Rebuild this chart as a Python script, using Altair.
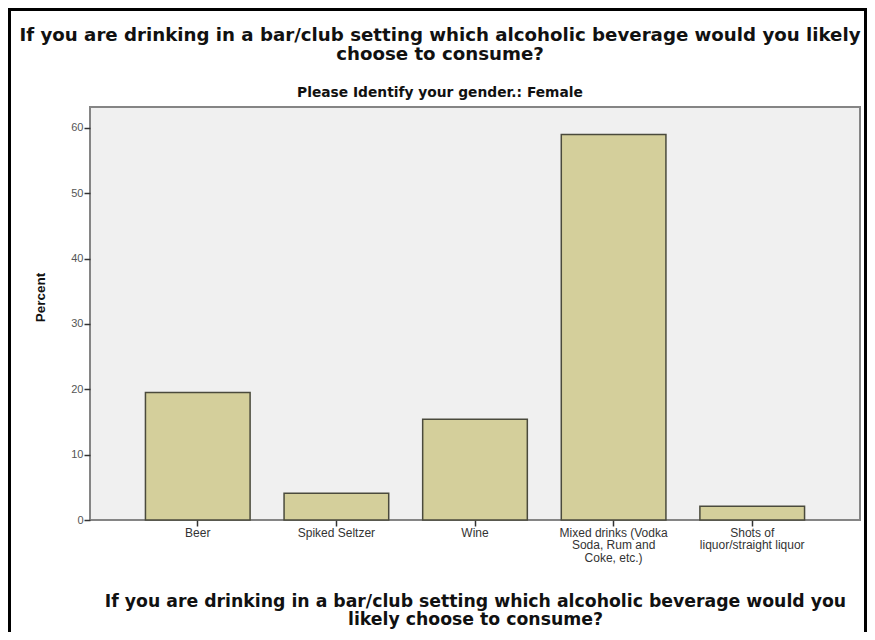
import altair as alt
import pandas as pd

# ---- data ----
categories = ["Beer", "Spiked Seltzer", "Wine",
              "Mixed drinks (Vodka Soda, Rum and Coke, etc.)",
              "Shots of liquor/straight liquor"]
percents = [19.5, 4.1, 15.4, 59.0, 2.1]
label_lines = [["Beer"], ["Spiked Seltzer"], ["Wine"],
               ["Mixed drinks (Vodka", "Soda, Rum and", "Coke, etc.)"],
               ["Shots of", "liquor/straight liquor"]]
y_ticks = [0, 10, 20, 30, 40, 50, 60]

title_lines = ["If you are drinking in a bar/club setting which alcoholic beverage would you likely",
               "choose to consume?"]
subtitle_text = "Please Identify your gender.: Female"
x_title_lines = ["If you are drinking in a bar/club setting which alcoholic beverage would you",
                 "likely choose to consume?"]
y_title = "Percent"

df = pd.DataFrame({"cat": categories, "pct": percents})

# label expression mapping each category to its wrapped lines
parts = []
for c, lines in zip(categories, label_lines):
    arr = "[" + ",".join("'" + l.replace("'", "\\'") + "'" for l in lines) + "]"
    parts.append(f"datum.label == '{c}' ? {arr}")
label_expr = " : ".join(parts) + " : datum.label"

PLOT_W, PLOT_H = 770, 413

bars = alt.Chart(df).mark_bar(
    color="#d4cf9b", stroke="#4a4a3c", strokeWidth=1.5
).encode(
    x=alt.X("cat:N", sort=categories,
            scale=alt.Scale(paddingInner=0.245, paddingOuter=0.4),
            axis=alt.Axis(title=x_title_lines, labelAngle=0, labelExpr=label_expr,
                          labelFont="Liberation Sans", labelFontSize=12, labelColor="#333333",
                          labelLineHeight=12.5, labelBaseline="top", labelPadding=1,
                          tickColor="#333333", tickSize=6, tickWidth=1.5, domain=False,
                          titleFont="DejaVu Sans", titleFontSize=17.3, titleFontWeight="bold",
                          titleColor="#111111", titleLineHeight=18.5,
                          titleBaseline="top", titleY=72)),
    y=alt.Y("pct:Q",
            scale=alt.Scale(domain=[0, 63.2], nice=False, zero=True),
            axis=alt.Axis(title=y_title, values=y_ticks, grid=False, domain=False,
                          labelFont="Liberation Sans", labelFontSize=11, labelColor="#555555",
                          labelPadding=1, tickColor="#333333", tickSize=6, tickWidth=1.5,
                          titleFont="Liberation Sans", titleFontSize=13.5, titleFontWeight="bold",
                          titleColor="#111111", titleX=-50, titleY=190,
                          titleBaseline="middle")),
)

frame_df = pd.DataFrame({"k": [0]})
frame = alt.Chart(frame_df).mark_rect(
    fillOpacity=0, stroke="black", strokeWidth=3
).encode(
    x=alt.value(-80.5), x2=alt.value(775.5),
    y=alt.value(-97.5), y2=alt.value(640),
)

chart = alt.layer(bars, frame).properties(
    width=PLOT_W, height=PLOT_H,
    autosize=alt.AutoSizeParams(type="none"),
    padding={"left": 82, "top": 99, "right": 7, "bottom": 112},
    background="white",
    title=alt.TitleParams(
        text=title_lines, subtitle=subtitle_text,
        font="DejaVu Sans", fontSize=18.2, fontWeight="bold", color="#111111",
        lineHeight=19.5,
        subtitleFont="DejaVu Sans", subtitleFontSize=13.8, subtitleFontWeight="bold",
        subtitleColor="#111111", subtitlePadding=22,
        anchor="middle", dx=-35, dy=99, offset=6,
    ),
).configure_view(
    fill="#f0f0f0", stroke="#858585", strokeWidth=2
)

chart.save("out.html", embed_options={"renderer": "svg", "actions": False})
